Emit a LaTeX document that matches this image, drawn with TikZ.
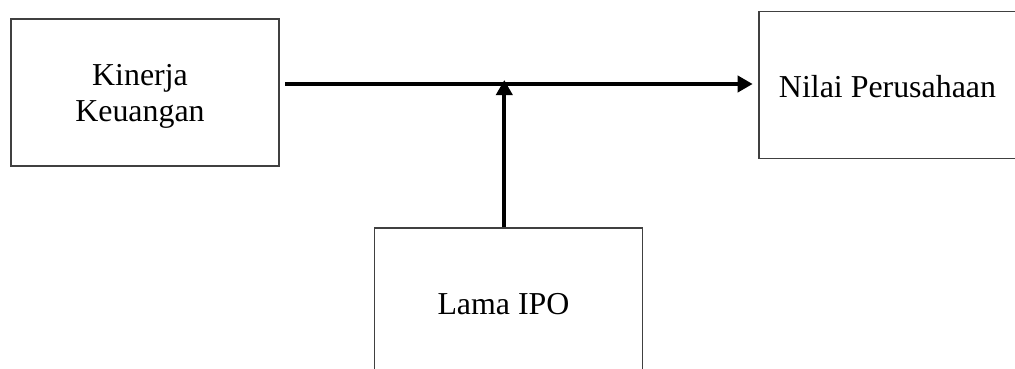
\documentclass[tikz,border=0pt]{standalone}
\usepackage{fontspec}
\setmainfont{Liberation Serif}
\usetikzlibrary{arrows.meta}
\begin{document}
\begin{tikzpicture}[x=1pt,y=-1pt,
  box/.style={draw=black!75, line width=1.3pt, minimum width=268pt, minimum height=147pt, inner sep=0pt},
  txt/.style={font=\fontsize{31.9}{36}\selectfont, align=center, inner sep=0pt},
  arr/.style={line width=3.7pt, -{Triangle[length=15pt,width=16pt]}}]
\useasboundingbox (0,0) rectangle (1015,369);
\clip (0,0) rectangle (1015,369);
% boxes
\node[box] (kk) at (145,92.5) {};
\node[box] (np) at (893,85) {};
\node[box] (ipo) at (508.5,301.5) {};
% box texts
\node[txt] (kkt) at ([xshift=-5,yshift=-3.5]kk.center) {Kinerja\\Keuangan};
\node[txt, anchor=base] (npt) at (887.5,97) {Nilai Perusahaan};
\node[txt, anchor=base] (ipot) at (503.5,314) {Lama IPO};
% connectors
\coordinate (hs) at (285,84);
\coordinate (he) at (752.7,84);
\coordinate (vt) at (504.3,80);
\draw[arr] (hs) -- (he);
\draw[arr] (vt |- ipo.north) -- (vt);
\end{tikzpicture}
\end{document}
